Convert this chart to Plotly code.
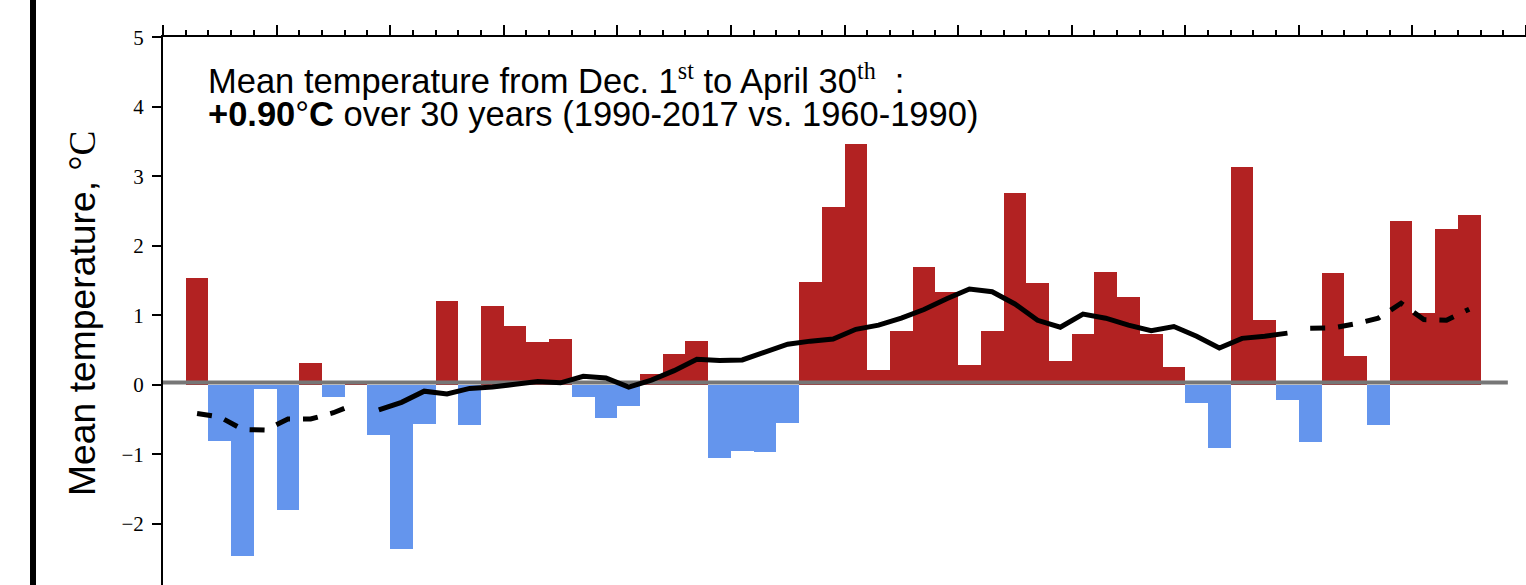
import plotly.graph_objects as go

# Winter (Dec. 1 - Apr. 30) mean temperature anomaly, one value per season
years = list(range(1961, 2018))
anomaly = [
    1.54, -0.80, -2.46, -0.06, -1.80, 0.31, -0.17, 0.02, -0.72, -2.36,   # 1961-1970
    -0.56, 1.21, -0.58, 1.13, 0.85, 0.62, 0.66, -0.17, -0.47, -0.30,     # 1971-1980
    0.16, 0.45, 0.63, -1.05, -0.95, -0.97, -0.55, 1.48, 2.56, 3.46,      # 1981-1990
    0.21, 0.78, 1.69, 1.34, 0.29, 0.77, 2.76, 1.47, 0.34, 0.73,          # 1991-2000
    1.63, 1.26, 0.73, 0.26, -0.26, -0.91, 3.13, 0.94, -0.22, -0.82,      # 2001-2010
    1.61, 0.42, -0.57, 2.36, 1.04, 2.25, 2.45,                           # 2011-2017
]

# Running mean: full-window part (solid) and the two partial-window ends (dashed)
smooth_years = list(range(1969, 2010))
smooth = [
    -0.36, -0.25, -0.09, -0.13, -0.05, -0.03, 0.01, 0.05, 0.03, 0.125,
    0.10, -0.03, 0.07, 0.205, 0.37, 0.35, 0.36, 0.48, 0.585, 0.63,
    0.66, 0.80, 0.86, 0.96, 1.085, 1.24, 1.38, 1.34, 1.165, 0.93,
    0.83, 1.02, 0.96, 0.86, 0.78, 0.84, 0.70, 0.53, 0.67, 0.70,
    0.745,
]
head_years = list(range(1961, 1969))
head = [-0.41, -0.46, -0.64, -0.65, -0.49, -0.49, -0.40, -0.27]
tail_years = list(range(2010, 2018))
tail = [0.815, 0.82, 0.88, 0.96, 1.175, 0.94, 0.93, 1.09]

# Reference (zero) line extent
zero_x = [1959, 2019.2]
zero_y = [0.035, 0.035]

# Y tick labels
ytick_vals = [-2, -1, 0, 1, 2, 3, 4, 5]
ytick_text = ["\u22122", "\u22121", "0", "1", "2", "3", "4", "5"]

WARM = "#B22222"
COLD = "#6495ED"

fig = go.Figure()

fig.add_trace(go.Bar(
    x=[y + 0.5 for y in years],
    y=anomaly,
    width=1.0,
    marker=dict(color=[WARM if v >= 0 else COLD for v in anomaly], line=dict(width=0)),
    showlegend=False,
    hoverinfo="x+y",
))

fig.add_trace(go.Scatter(
    x=zero_x, y=zero_y, mode="lines",
    line=dict(color="#767676", width=4),
    showlegend=False, hoverinfo="skip",
))

for xs, ys, dash in [
    (head_years, head, "15px,13px"),
    (smooth_years, smooth, "solid"),
    (tail_years, tail, "15px,13px"),
]:
    fig.add_trace(go.Scatter(
        x=[y + 0.5 for y in xs], y=ys, mode="lines",
        line=dict(color="black", width=5, dash=dash),
        showlegend=False,
    ))

SANS = "Liberation Sans, Arial, Helvetica, sans-serif"
SERIF = "Liberation Serif, Times New Roman, serif"

W, H = 1526, 585
L, T = 163, 37
pw, ph = W - L, H - T


def px_x(px):
    return (px - L) / pw


def px_y(py):
    return (H - py) / ph


fig.update_layout(
    width=W, height=H,
    margin=dict(l=L, r=0, t=T, b=0, pad=0),
    paper_bgcolor="white",
    plot_bgcolor="white",
    bargap=0,
    xaxis=dict(
        range=[1960, 2020],
        side="top",
        showline=True, linecolor="black", linewidth=2,
        ticks="outside", ticklen=10, tickwidth=1.5, tickcolor="black",
        tick0=1960, dtick=5,
        minor=dict(ticks="outside", ticklen=5, tickwidth=1.5, tickcolor="black",
                   tick0=1960, dtick=1, showgrid=False),
        showticklabels=False,
        showgrid=False, zeroline=False,
        automargin=False,
    ),
    yaxis=dict(
        range=[-2.878, 5.005],
        showline=True, linecolor="black", linewidth=2,
        ticks="outside", ticklen=9, tickwidth=1.5, tickcolor="black",
        tickmode="array", tickvals=ytick_vals, ticktext=ytick_text,
        tickfont=dict(family=SERIF, size=21, color="black"),
        ticklabelstandoff=4,
        showgrid=False, zeroline=False,
        automargin=False,
    ),
    annotations=[
        dict(
            xref="paper", yref="paper", x=px_x(206), y=px_y(79),
            xanchor="left", yanchor="middle", showarrow=False,
            text=("Mean temperature from Dec. 1<sup><span style=\"font-family:Liberation Serif\">st</span></sup>"
                  " to April 30<sup><span style=\"font-family:Liberation Serif\">th</span></sup>\u00a0\u00a0:"),
            font=dict(family=SANS, size=34.5, color="black"),
        ),
        dict(
            xref="paper", yref="paper", x=px_x(206), y=px_y(114),
            xanchor="left", yanchor="middle", showarrow=False,
            text="<b>+0.90</b>°<b>C</b> over 30 years (1990-2017 vs. 1960-1990)",
            font=dict(family=SANS, size=34.5, color="black"),
        ),
        dict(
            xref="paper", yref="paper", x=px_x(82), y=px_y(314),
            xanchor="center", yanchor="middle", showarrow=False, textangle=-90,
            text="Mean temperature, <span style=\"font-family:Liberation Serif\">°C</span>",
            font=dict(family=SANS, size=37.3, color="black"),
        ),
    ],
    shapes=[
        dict(type="rect", xref="paper", yref="paper",
             x0=px_x(30), x1=px_x(36), y0=px_y(H), y1=px_y(0),
             fillcolor="black", line=dict(width=0), layer="above"),
    ],
)

fig.write_html("out.html")
